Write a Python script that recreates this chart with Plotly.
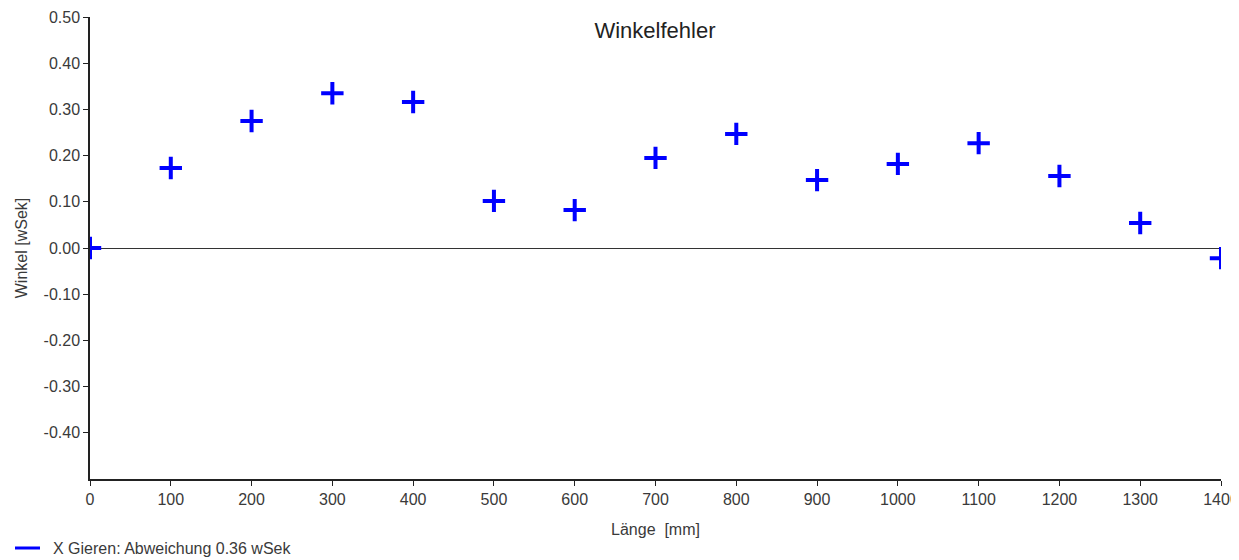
import plotly.graph_objects as go

laenge = [0, 100, 200, 300, 400, 500, 600, 700, 800, 900, 1000, 1100, 1200, 1300, 1400]
winkel = [0.0, 0.173, 0.275, 0.335, 0.316, 0.102, 0.082, 0.195, 0.247, 0.147, 0.182, 0.227, 0.156, 0.054, -0.022]
y_ticks = [0.5, 0.4, 0.3, 0.2, 0.1, 0.0, -0.1, -0.2, -0.3, -0.4]
x_ticks = list(range(0, 1401, 100))
legend_name = "X Gieren: Abweichung 0.36 wSek"

BLUE = "rgb(0,0,255)"
FONT = "Liberation Sans, Arial, sans-serif"

# the page body has an 8px margin, so the figure is placed 8px into the window
W, H = 1239, 552
OFF = 8
L, R, T, B = 90 - OFF, W - (1221 - OFF), 17 - OFF, H - (479 - OFF)
PW = W - L - R
PH = H - T - B

fig = go.Figure()
fig.add_trace(go.Scatter(
    x=laenge, y=winkel, mode="markers", name=legend_name,
    marker=dict(symbol="cross-thin", size=16, line=dict(color=BLUE, width=4), color=BLUE),
    showlegend=False, cliponaxis=True,
))

# legend drawn as a sample line + label below the plot
leg_y = (479 - 548) / PH
fig.add_shape(type="line", xref="paper", yref="paper",
              x0=(15 - 90) / PW, x1=(40 - 90) / PW, y0=leg_y, y1=leg_y,
              line=dict(color=BLUE, width=3))
fig.add_annotation(xref="paper", yref="paper", x=(51 - 90) / PW, y=leg_y,
                   xanchor="left", yanchor="middle", showarrow=False,
                   text=legend_name, font=dict(family=FONT, size=16, color="#3a3a3a"))

fig.update_layout(
    width=W, height=H,
    margin=dict(l=L, r=R, t=T, b=B),
    plot_bgcolor="white", paper_bgcolor="white",
    showlegend=False,
    font=dict(family=FONT, size=16, color="#3a3a3a"),
    title=dict(text="Winkelfehler", x=(655 - OFF) / W, xanchor="center",
               y=1 - (30 - OFF) / H, yanchor="middle",
               font=dict(family=FONT, size=22, color="#222222")),
    xaxis=dict(range=[0, 1400], tickvals=x_ticks, ticktext=[str(v) for v in x_ticks],
               showgrid=False, zeroline=False, showline=True, linecolor="#222222", linewidth=1.5,
               ticks="outside", ticklen=5, tickcolor="#222222", automargin=False,
               title=dict(text="Länge  [mm]", standoff=17, font=dict(size=16)),
               fixedrange=True),
    yaxis=dict(range=[-0.5, 0.5], tickvals=y_ticks, ticktext=[f"{v:.2f}" for v in y_ticks],
               showgrid=False, zeroline=True, zerolinecolor="#333333", zerolinewidth=1.2,
               showline=True, linecolor="#222222", linewidth=1.5,
               ticks="outside", ticklen=5, tickcolor="#222222", automargin=False,
               title=dict(text="Winkel [wSek]", standoff=12, font=dict(size=16)),
               fixedrange=True),
)

fig.write_html("out.html")
